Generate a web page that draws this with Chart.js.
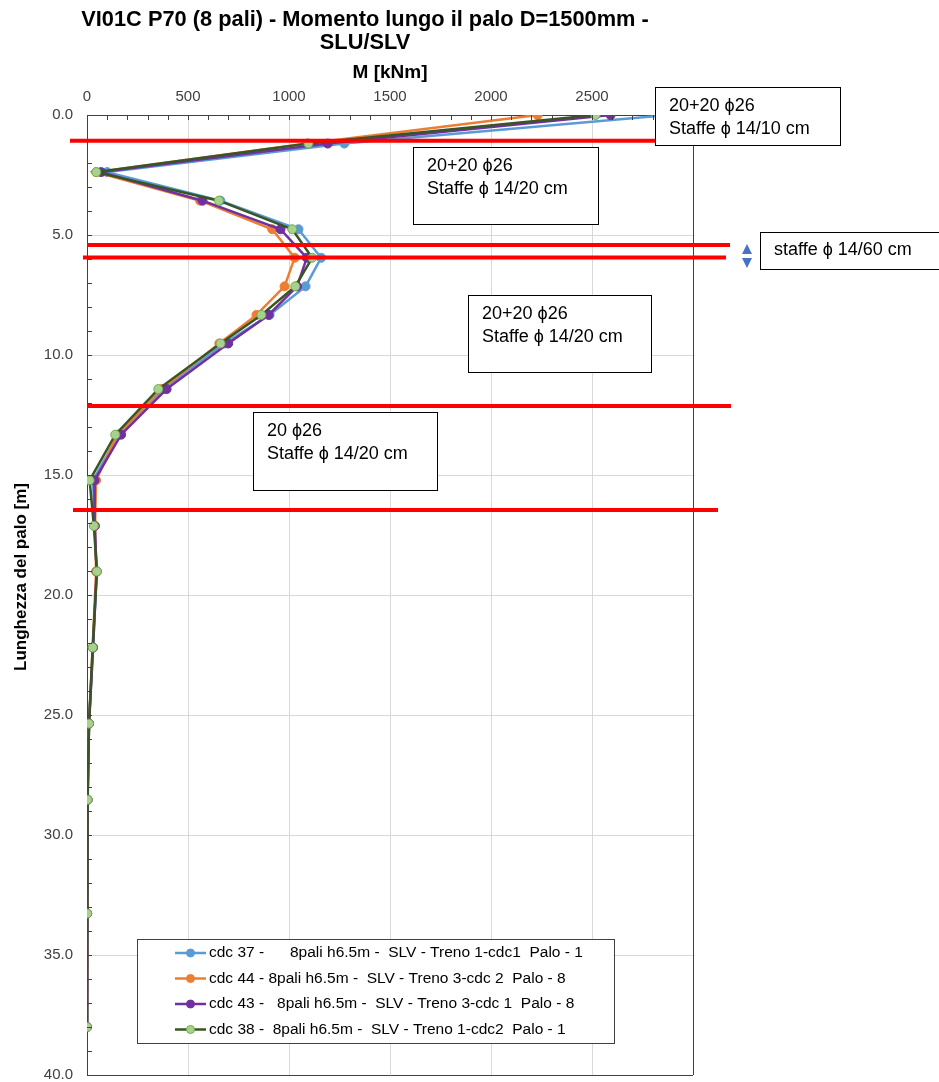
<!DOCTYPE html>
<html>
<head>
<meta charset="utf-8">
<script src="https://cdn.jsdelivr.net/npm/chart.js@4"></script>
<style>
  html, body { margin: 0; padding: 0; background: #fff; }
</style>
</head>
<body>
<canvas id="chart" width="939" height="1082"></canvas>
<script>
// profondita' dei nodi lungo il palo [m]
const depth = [0, 1.19, 2.38, 3.57, 4.76, 5.95, 7.14, 8.33, 9.52, 11.42, 13.32, 15.22, 17.12, 19.02, 22.19, 25.36, 28.53, 33.27, 38.0];

// momento M [kNm] per combinazione
const cdc37 = [2880, 1274, 100, 660, 1047, 1159, 1082, 904, 680, 380, 155, 30, 38, 48, 30, 10, 3, 1, 0];
const cdc44 = [2231, 1090, 45, 560, 917, 1028, 978, 839, 655, 370, 150, 45, 40, 45, 28, 10, 3, 1, 0];
const cdc43 = [2592, 1192, 70, 572, 958, 1088, 1040, 899, 699, 394, 169, 37, 38, 48, 30, 10, 3, 1, 0];
const cdc38 = [2518, 1096, 46, 653, 1016, 1115, 1031, 863, 661, 353, 140, 13, 34, 49, 28, 10, 3, 1, 0];

const seriesNames = [
  "cdc 37 -      8pali h6.5m -  SLV - Treno 1-cdc1  Palo - 1",
  "cdc 44 - 8pali h6.5m -  SLV - Treno 3-cdc 2  Palo - 8",
  "cdc 43 -   8pali h6.5m -  SLV - Treno 3-cdc 1  Palo - 8",
  "cdc 38 -  8pali h6.5m -  SLV - Treno 1-cdc2  Palo - 1"
];

// quote delle linee rosse (cambio armatura) [m]
const redDepths = [1.07, 5.42, 5.94, 12.13, 16.46];

const titleLines = ["VI01C P70 (8 pali) - Momento lungo il palo D=1500mm -", "SLU/SLV"];

// caselle di testo (come in Excel, posizionate a mano)
const boxes = [
  { x: 655, y: 87, w: 185, h: 58, lines: ["20+20 \u03D526", "Staffe \u03D5 14/10 cm"] },
  { x: 413, y: 147, w: 185, h: 77, lines: ["20+20 \u03D526", "Staffe \u03D5 14/20 cm"] },
  { x: 760, y: 232, w: 190, h: 37, lines: ["staffe \u03D5 14/60 cm"] },
  { x: 468, y: 295, w: 183, h: 77, lines: ["20+20 \u03D526", "Staffe \u03D5 14/20 cm"] },
  { x: 253, y: 412, w: 184, h: 78, lines: ["20 \u03D526", "Staffe \u03D5 14/20 cm"] }
];
const redSpan = [[70, 655], [87, 730], [83, 726], [87, 731], [73, 718]];

const toPts = arr => arr.map((v, i) => ({ x: v, y: depth[i] }));

const styles = [
  { line: "#5B9BD5", fill: "#5B9BD5", border: "#5B9BD5" },
  { line: "#ED7D31", fill: "#ED7D31", border: "#ED7D31" },
  { line: "#7030A0", fill: "#7030A0", border: "#7030A0" },
  { line: "#375623", fill: "#A9D18E", border: "#70AD47" }
];
const values = [cdc37, cdc44, cdc43, cdc38];

const datasets = values.map((v, i) => ({
  label: seriesNames[i],
  data: toPts(v),
  showLine: true,
  order: values.length - i, // ultima serie sopra
  borderColor: styles[i].line,
  borderWidth: 2.5,
  pointRadius: 4.5,
  pointBackgroundColor: styles[i].fill,
  pointBorderColor: styles[i].border,
  pointBorderWidth: 1,
  tension: 0
}));

const overlay = {
  id: "overlay",
  afterDraw(chart) {
    const ctx = chart.ctx;
    const xs = chart.scales.x, ys = chart.scales.y;
    const a = chart.chartArea;
    ctx.save();

    // tacche secondarie interne
    ctx.strokeStyle = "#404040";
    ctx.lineWidth = 1;
    ctx.beginPath();
    for (let v = 0; v <= 3000; v += 100) {
      const px = Math.round(xs.getPixelForValue(v)) + 0.5;
      ctx.moveTo(px, a.top); ctx.lineTo(px, a.top + 5);
    }
    for (let v = 0; v <= 40; v += 1) {
      const py = Math.round(ys.getPixelForValue(v)) + 0.5;
      ctx.moveTo(a.left, py); ctx.lineTo(a.left + 5, py);
    }
    ctx.stroke();

    // linee rosse
    ctx.strokeStyle = "#FF0000";
    ctx.lineWidth = 4;
    redDepths.forEach((d, i) => {
      const py = ys.getPixelForValue(d);
      ctx.beginPath();
      ctx.moveTo(redSpan[i][0], py);
      ctx.lineTo(redSpan[i][1], py);
      ctx.stroke();
    });

    // caselle di testo
    ctx.font = "18px 'Liberation Sans', Arial, sans-serif";
    ctx.textBaseline = "middle";
    ctx.textAlign = "left";
    boxes.forEach(b => {
      ctx.fillStyle = "#fff";
      ctx.fillRect(b.x, b.y, b.w, b.h);
      ctx.strokeStyle = "#000";
      ctx.lineWidth = 1;
      ctx.strokeRect(b.x + 0.5, b.y + 0.5, b.w, b.h);
      ctx.fillStyle = "#000";
      const top = b.lines.length === 1 ? b.y + b.h / 2 : b.y + 19;
      b.lines.forEach((t, k) => ctx.fillText(t, b.x + 14, top + k * 23));
    });

    // freccia doppia
    ctx.fillStyle = "#4472C4";
    ctx.beginPath();
    ctx.moveTo(747, 244); ctx.lineTo(752, 254); ctx.lineTo(742, 254); ctx.closePath();
    ctx.moveTo(747, 268); ctx.lineTo(752, 258); ctx.lineTo(742, 258); ctx.closePath();
    ctx.fill();

    // legenda
    const lx = 137, ly = 939, lw = 477, lh = 104;
    ctx.fillStyle = "#fff";
    ctx.fillRect(lx, ly, lw, lh);
    ctx.strokeStyle = "#404040";
    ctx.lineWidth = 1;
    ctx.strokeRect(lx + 0.5, ly + 0.5, lw, lh);
    ctx.font = "15.5px 'Liberation Sans', Arial, sans-serif";
    chart.data.datasets.forEach((ds, i) => {
      const y = 953 + i * 25.5;
      ctx.strokeStyle = ds.borderColor;
      ctx.lineWidth = 2.5;
      ctx.beginPath(); ctx.moveTo(175, y); ctx.lineTo(206, y); ctx.stroke();
      ctx.fillStyle = ds.pointBackgroundColor;
      ctx.strokeStyle = ds.pointBorderColor;
      ctx.lineWidth = 1;
      ctx.beginPath(); ctx.arc(190.5, y, 4, 0, Math.PI * 2); ctx.fill(); ctx.stroke();
      ctx.fillStyle = "#000";
      ctx.fillText(ds.label, 209, y);
    });

    // titolo
    ctx.fillStyle = "#000";
    ctx.textAlign = "center";
    ctx.font = "bold 21.8px 'Liberation Sans', Arial, sans-serif";
    titleLines.forEach((t, k) => ctx.fillText(t, 365, 20 + k * 23));

    // titolo asse y
    ctx.font = "bold 17px 'Liberation Sans', Arial, sans-serif";
    ctx.translate(21, 577);
    ctx.rotate(-Math.PI / 2);
    ctx.fillText("Lunghezza del palo [m]", 0, 0);
    ctx.restore();
  }
};

new Chart(document.getElementById("chart"), {
  type: "scatter",
  data: { datasets: datasets },
  options: {
    responsive: false,
    devicePixelRatio: 1,
    animation: false,
    layout: { padding: { left: 0, top: 0, right: 246, bottom: 7 } },
    plugins: {
      legend: { display: false },
      title: { display: false },
      tooltip: { enabled: false }
    },
    scales: {
      x: {
        type: "linear",
        position: "top",
        min: 0,
        max: 3000,
        ticks: {
          stepSize: 500,
          color: "#404040",
          padding: 9,
          font: { size: 15, family: "'Liberation Sans', Arial" },
          callback: v => String(v)
        },
        grid: {
          drawTicks: false,
          color: c => (c.tick && c.tick.value === 3000 ? "#404040" : "#d9d9d9")
        },
        border: { color: "#404040", width: 1 },
        title: {
          display: true,
          text: "M [kNm]",
          color: "#000",
          font: { size: 19, weight: "bold", family: "'Liberation Sans', Arial" },
          padding: { top: 61, bottom: 0 }
        },
        afterFit: s => { s.height = 115; s.paddingLeft = 0; s.paddingRight = 0; }
      },
      y: {
        type: "linear",
        reverse: true,
        min: 0,
        max: 40,
        ticks: {
          stepSize: 5,
          color: "#404040",
          padding: 14,
          font: { size: 15, family: "'Liberation Sans', Arial" },
          callback: v => v.toFixed(1)
        },
        grid: {
          drawTicks: false,
          color: c => (c.tick && c.tick.value === 40 ? "#404040" : "#d9d9d9")
        },
        border: { color: "#404040", width: 1 },
        afterFit: s => { s.width = 87; s.paddingTop = 0; s.paddingBottom = 0; }
      }
    }
  },
  plugins: [overlay]
});
</script>
</body>
</html>
